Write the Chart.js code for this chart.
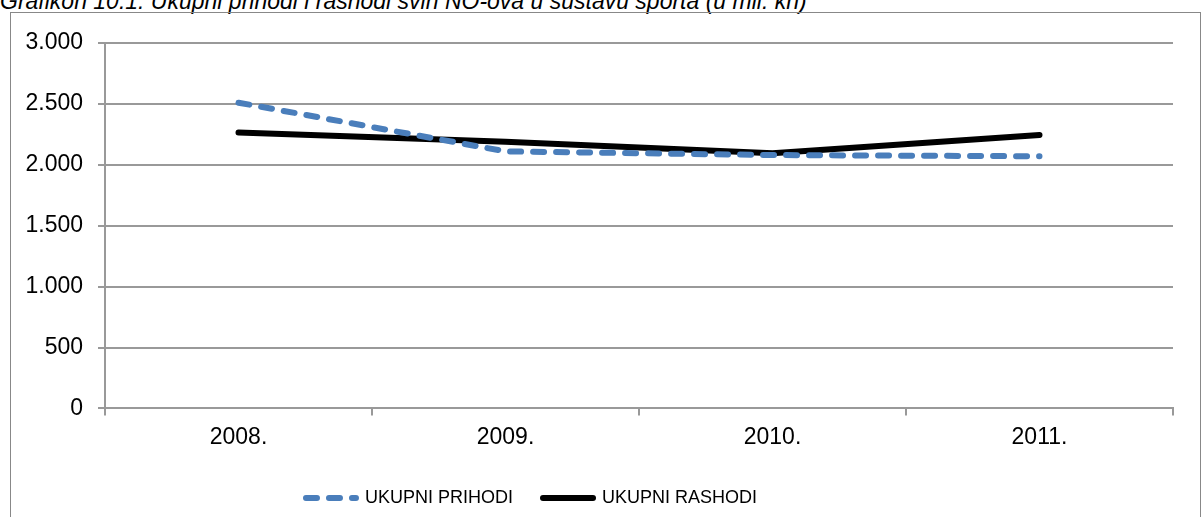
<!DOCTYPE html>
<html>
<head>
<meta charset="utf-8">
<script src="https://cdn.jsdelivr.net/npm/chart.js@4"></script>
<style>
  html, body { margin: 0; padding: 0; background: #fff; overflow: hidden; }
  #wrap { position: relative; width: 1203px; height: 517px; }
  .title {
    position: absolute; left: 0; top: -10px; white-space: nowrap;
    font: italic 23px/23px 'Liberation Sans', Arial, sans-serif; color: #000;
  }
  .frame {
    position: absolute; left: 10px; top: 12px; width: 1189px; height: 520px;
    border: 1px solid #888;
  }
  canvas { position: absolute; left: 0; top: 0; }
</style>
</head>
<body>
<div id="wrap">
  <div class="title">Grafikon 10.1. Ukupni prihodi i rashodi svih NO-ova u sustavu sporta (u mil. kn)</div>
  <div class="frame"></div>
  <canvas id="chart" width="1203" height="517"></canvas>
</div>
<script>
// values in mil. kn
const years = ['2008.', '2009.', '2010.', '2011.'];
const prihodi = [2510, 2110, 2080, 2070];
const rashodi = [2265, 2190, 2095, 2245];
const yTicks = [0, 500, 1000, 1500, 2000, 2500, 3000];

const font = "'Liberation Sans', Arial, sans-serif";

function fmt(v) {
  // 3000 -> "3.000"
  return String(v).replace(/\B(?=(\d{3})+(?!\d))/g, '.');
}

// legend sits a bit left of centre in the original
const shiftLegend = {
  id: 'shiftLegend',
  afterLayout(chart) {
    chart.legend.left -= 55;
    chart.legend.right -= 55;
  }
};

const ctx = document.getElementById('chart').getContext('2d');
new Chart(ctx, {
  type: 'line',
  data: {
    labels: years,
    datasets: [{
      label: 'UKUPNI PRIHODI',
      data: prihodi,
      borderColor: '#4a7ebb',
      backgroundColor: '#4a7ebb',
      borderWidth: 6,
      borderDash: [11, 12],
      borderCapStyle: 'round',
      pointRadius: 0,
      tension: 0
    }, {
      label: 'UKUPNI RASHODI',
      data: rashodi,
      borderColor: '#000',
      backgroundColor: '#000',
      borderWidth: 6,
      borderCapStyle: 'round',
      pointRadius: 0,
      tension: 0
    }]
  },
  plugins: [shiftLegend],
  options: {
    responsive: false,
    animation: false,
    layout: { padding: { left: 0, right: 30, top: 43, bottom: 0 } },
    plugins: {
      tooltip: { enabled: false },
      legend: {
        position: 'bottom',
        labels: {
          usePointStyle: true,
          pointStyle: 'line',
          pointStyleWidth: 50,
          padding: 30,
          color: '#000',
          font: { family: font, size: 18 },
          generateLabels: chart => Chart.defaults.plugins.legend.labels.generateLabels(chart).map(item => {
            const ds = chart.data.datasets[item.datasetIndex];
            item.lineDash = ds.borderDash || [];
            item.lineCap = ds.borderCapStyle;
            item.lineWidth = ds.borderWidth;
            item.strokeStyle = ds.borderColor;
            return item;
          })
        }
      }
    },
    scales: {
      x: {
        offset: true,
        grid: { offset: true, drawOnChartArea: false, tickLength: 7, color: '#999', lineWidth: 2 },
        border: { color: '#999', width: 2 },
        ticks: { color: '#000', padding: 8, font: { family: font, size: 23 } }
      },
      y: {
        min: 0,
        max: 3000,
        afterFit: s => { s.width = 105; },
        afterBuildTicks: s => { s.ticks = yTicks.map(v => ({ value: v })); },
        grid: { tickLength: 7, color: '#999', lineWidth: 2 },
        border: { color: '#999', width: 2 },
        ticks: { color: '#000', padding: 15, font: { family: font, size: 23 }, callback: v => fmt(v) }
      }
    }
  }
});
</script>
</body>
</html>
